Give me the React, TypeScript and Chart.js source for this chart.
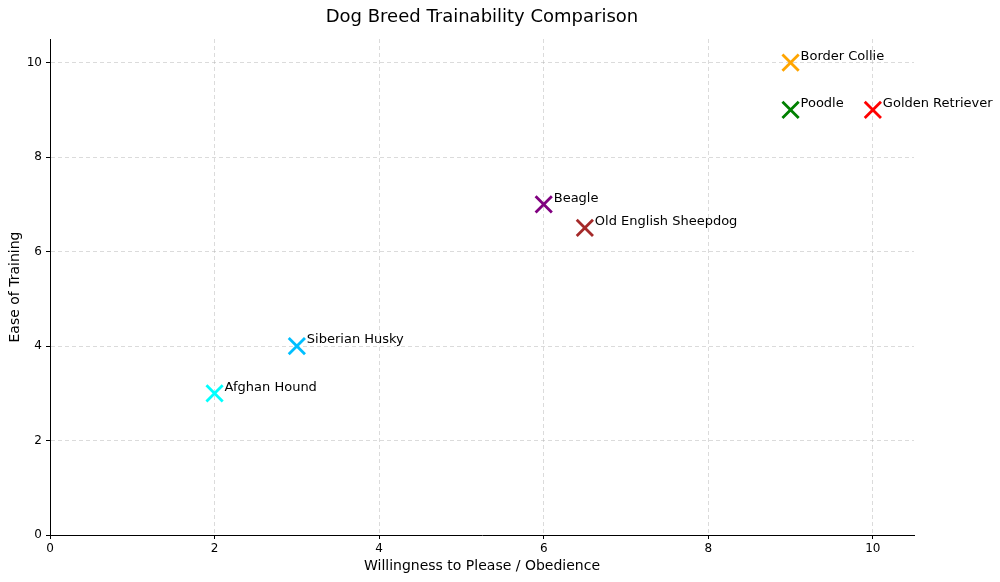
import React, { useEffect, useRef } from "react";
import { Chart, registerables } from "chart.js";
Chart.register(...registerables);

const breeds = ["Border Collie", "Poodle", "Golden Retriever", "Beagle", "Old English Sheepdog", "Siberian Husky", "Afghan Hound"];
const obedience = [9, 9, 10, 6, 6.5, 3, 2];
const easeOfTraining = [10, 9, 9, 7, 6.5, 4, 3];
const colors = ["orange", "green", "red", "purple", "brown", "deepskyblue", "cyan"];
const xTicks = [0, 2, 4, 6, 8, 10];
const yTicks = [0, 2, 4, 6, 8, 10];

const FONT = "'DejaVu Sans', sans-serif";

export default function App() {
  const ref = useRef<HTMLCanvasElement | null>(null);
  useEffect(() => {
    if (!ref.current) return;
    const labelPlugin = {
      id: "labels",
      afterDatasetsDraw(chart: any) {
        const ctx = chart.ctx;
        const xs = chart.scales.x, ys = chart.scales.y;
        ctx.save();
        ctx.fillStyle = "#000";
        ctx.font = `13px ${FONT}`;
        ctx.textAlign = "left";
        ctx.textBaseline = "middle";
        breeds.forEach((b, i) => {
          ctx.fillText(b, xs.getPixelForValue(obedience[i]) + 10, ys.getPixelForValue(easeOfTraining[i]) - 6);
        });
        const ca = chart.chartArea;
        ctx.textAlign = "center";
        ctx.font = `18px ${FONT}`;
        ctx.fillText("Dog Breed Trainability Comparison", (ca.left + ca.right) / 2, 17);
        ctx.font = `14px ${FONT}`;
        ctx.fillText("Willingness to Please / Obedience", (ca.left + ca.right) / 2, 566);
        ctx.translate(15, (ca.top + ca.bottom) / 2);
        ctx.rotate(-Math.PI / 2);
        ctx.fillText("Ease of Training", 0, 0);
        ctx.restore();
      },
    };
    const chart = new Chart(ref.current, {
      type: "scatter",
      data: {
        datasets: [
          {
            data: obedience.map((x, i) => ({ x, y: easeOfTraining[i] })),
            pointStyle: "crossRot",
            pointRadius: 11.5,
            pointHoverRadius: 11.5,
            pointBorderWidth: 2.8,
            pointBorderColor: colors,
            pointBackgroundColor: colors,
            showLine: false,
          },
        ],
      },
      options: {
        animation: false,
        responsive: false,
        layout: { padding: { top: 39, right: 86, left: 0, bottom: 0 } },
        plugins: { legend: { display: false }, tooltip: { enabled: false }, title: { display: false } },
        scales: {
          x: {
            type: "linear",
            min: 0,
            max: 10.5,
            afterBuildTicks: (s: any) => { s.ticks = xTicks.map((v) => ({ value: v })); },
            afterFit: (s: any) => { s.height = 47; },
            ticks: { color: "#000", font: { family: FONT, size: 12 }, padding: 3, maxRotation: 0 },
            grid: { color: "rgba(176,176,176,0.45)", tickColor: "#000", tickLength: 4, lineWidth: 1 },
            border: { color: "#000", width: 1, dash: [4, 3] },
          },
          y: {
            type: "linear",
            min: 0,
            max: 10.5,
            afterBuildTicks: (s: any) => { s.ticks = yTicks.map((v) => ({ value: v })); },
            afterFit: (s: any) => { s.width = 50; },
            ticks: { color: "#000", font: { family: FONT, size: 12 }, padding: 4 },
            grid: { color: "rgba(176,176,176,0.45)", tickColor: "#000", tickLength: 4, lineWidth: 1 },
            border: { color: "#000", width: 1, dash: [4, 3] },
          },
        },
      },
      plugins: [labelPlugin],
    } as any);
    return () => chart.destroy();
  }, []);
  return (
    <div style={{ position: "fixed", left: 0, top: 0, width: 1000, height: 582, background: "#fff" }}>
      <canvas ref={ref} width={1000} height={582} style={{ width: 1000, height: 582 }} />
    </div>
  );
}
